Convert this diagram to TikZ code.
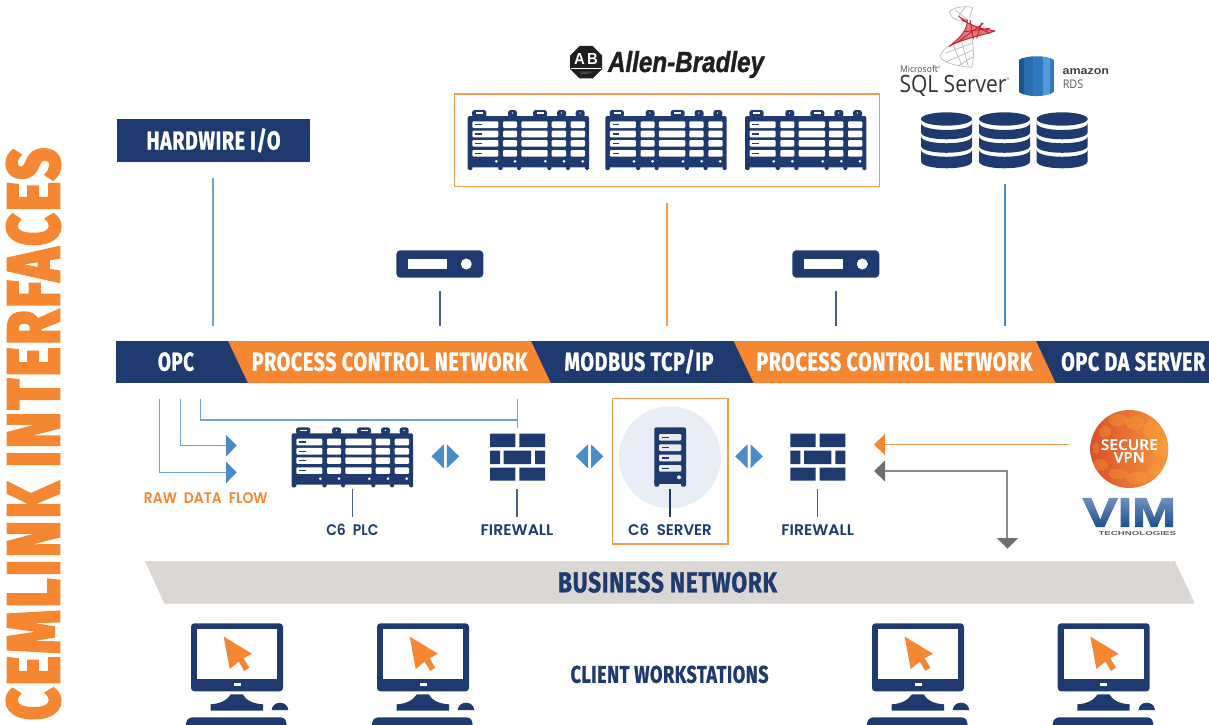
\documentclass[tikz,border=0pt]{standalone}
\usepackage{fontspec}
\usepackage{graphicx}
\usetikzlibrary{fadings}
\setmainfont{Liberation Sans}
\newfontfamily\headfont[FakeBold=1.2,LetterSpace=3]{Fira Sans Bold}
\newfontfamily\titlefont[FakeBold=3.5,LetterSpace=5]{Fira Sans ExtraBold}
\newfontfamily\labfont{Poppins SemiBold}
\newfontfamily\abfont[FakeBold=1.2]{Liberation Sans Bold Italic}
\newfontfamily\sqlfont{Open Sans}
\newfontfamily\vpnfont[FakeBold=0.6]{Open Sans Semibold}
\newfontfamily\vimfont{Liberation Sans Bold}
\newfontfamily\vimbig[FakeBold=2.5]{Liberation Sans Bold}
\newdimen\pxu \pxu=0.75pt
\newlength\capH
\newcommand\fit[3]{\resizebox{#1\pxu}{#2\pxu}{\settoheight\capH{H}\raisebox{0pt}[\capH][0pt]{#3}}}
\definecolor{navy}{HTML}{1F3A6E}
\definecolor{orng}{HTML}{F58733}
\definecolor{arrowblue}{HTML}{4A8BC9}
\definecolor{lineblue}{HTML}{6FA3D8}
\definecolor{slatenavy}{HTML}{47608C}
\definecolor{greyarrow}{HTML}{6D6E71}
\definecolor{bandgrey}{HTML}{DAD7D5}
\definecolor{halo}{HTML}{E8EDF6}
\definecolor{sqlred}{HTML}{C8262C}
\definecolor{sqlgrey}{HTML}{B4BAC2}
\definecolor{vimblue}{HTML}{174C92}
\definecolor{vpndark}{HTML}{D8502A}
\definecolor{vpnlight}{HTML}{F7993D}
\definecolor{rdsa}{HTML}{1A5590}
\definecolor{rdsb}{HTML}{2A6CAD}
\definecolor{rdsc}{HTML}{3079BF}
\definecolor{rdsd}{HTML}{5599D8}
\tikzset{
  x=0.75pt,y=-0.75pt,
  bandtext/.style={font=\headfont\fontsize{18}{18}\selectfont,text=white,inner sep=0pt},
  headtext/.style={font=\headfont\fontsize{18}{18}\selectfont,text=navy,inner sep=0pt},
  lab/.style={font=\labfont\fontsize{11}{11}\selectfont,text=navy,inner sep=0pt},
  wire/.style={draw=lineblue,line width=0.9pt},
  dark/.style={draw=slatenavy,line width=0.9pt},
  boxline/.style={draw=orng!85,line width=0.9pt},
  rack/.pic={
    \begin{scope}[scale=1/3]
      \fill[navy,rounded corners=1.5pt] (0,18) rectangle (364,172);
      \foreach \a/\b in {0/14,92/105,148/160,239/251,295/307,352/364}
        \fill[navy,rounded corners=1pt] (\a,165) rectangle (\b,180);
      \foreach \a/\b in {13/56,121/148,196/238,268/295,324/351}
        \fill[navy,rounded corners=2pt] (\a,0) rectangle (\b,22);
      \foreach \a/\b in {25/46,207/228}
        \fill[white] (\a,7) rectangle (\b,11);
      \foreach \a in {134,281,337}
        \fill[white] (\a,9) circle (2.2);
      \foreach \r in {34,62,90,120}{
        \foreach \a/\b in {14/92,106/148,161/240,252/295,309/352}
          \fill[white,rounded corners=0.8pt] (\a,\r) rectangle (\b,\r+20);
        \fill[navy] (22,\r+8) rectangle (42,\r+12);
      }
      \foreach \a in {86,142,233,289,345}
        \fill[white] (\a,154) circle (4.5);
    \end{scope}
  },
  bricks/.pic={
    \fill[navy]
      (0,0) rectangle (25.3,13.3) (29.3,0) rectangle (55,13.3)
      (0,17) rectangle (10,30.3) (13.7,17) rectangle (41,30.3) (45,17) rectangle (55,30.3)
      (0,34) rectangle (25.3,47) (29.3,34) rectangle (55,47);
  },
  monitor/.pic={
    \fill[navy,rounded corners=2.5pt] (0,0) rectangle (92,68);
    \fill[white] (6,6) rectangle (86,56);
    \fill[white] (42.5,60) rectangle (49.5,63);
    \fill[orng] (32.7,13.3) -- (60.9,30.4) -- (52.6,35) -- (58.3,44.3) -- (53.3,47.7) -- (47.7,38.3) -- (38.7,45.7) -- cycle;
    \fill[navy] (40,71) -- (51.7,71) .. controls (55,77) and (62,80.5) .. (72,81) -- (72,87.3) -- (19.7,87.3) -- (19.7,81) .. controls (29,80.5) and (36,77) .. (40,71) -- cycle;
    \fill[navy] (80.7,86.7) .. controls (81.5,77) and (96.5,77) .. (97.3,86.7) -- cycle;
    \fill[navy,rounded corners=2.5pt] (-5.3,106) -- (-5.3,99) -- (-2,94) -- (93,94) -- (95.7,99) -- (95.7,106) -- cycle;
  },
  dbstack/.pic={
    \fill[navy] (25.5,6.7) ellipse [x radius=25.5,y radius=6.7];
    \foreach \t/\u in {10.7/20,24/33.5,37.5/49}
      \fill[navy] (0,\t) .. controls (0,\t+9.3) and (51,\t+9.3) .. (51,\t) -- (51,\u) .. controls (51,\u+9.3) and (0,\u+9.3) .. (0,\u) -- cycle;
  },
  switchbox/.pic={
    \fill[navy,rounded corners=3pt] (0,0) rectangle (87,27.4);
    \fill[white] (12,9) rectangle (51,18.7);
    \fill[white] (70,13.7) circle (5.5);
  },
  bluepair/.pic={
    \fill[arrowblue] (-1.5,0) -- (-13.8,12) -- (-1.5,24) -- cycle;
    \fill[arrowblue] (1.5,0) -- (13.8,12) -- (1.5,24) -- cycle;
  },
  towerserver/.pic={
    \fill[navy,rounded corners=1.5pt] (0,0) rectangle (31.7,56.5);
    \fill[navy,rounded corners=1pt] (0,52) rectangle (5,59.3) (26.7,52) rectangle (31.7,59.3);
    \foreach \r in {6.7,17,27.3,37.7}{
      \fill[white!90!navy,rounded corners=0.8pt] (4.7,\r) rectangle (27,\r+6.7);
      \fill[navy] (7.5,\r+2.7) rectangle (15,\r+4);
    }
    \fill[white!90!navy] (24.7,50) circle (2);
  }
}
\begin{document}
\begin{tikzpicture}
\useasboundingbox (0,0) rectangle (1209,724);
\fill[white] (0,0) rectangle (1209,724);

% vertical title
\node[rotate=90,inner sep=0pt,text=orng,font=\titlefont\fontsize{50}{50}\selectfont] (title) at (33.5,434) {\fit{572}{51}{CEMLINK INTERFACES}};

% band
\fill[navy] (116,341) rectangle (1209,383);
\fill[orng] (228,341) -- (531,341) -- (550.7,383) -- (248,383) -- cycle;
\fill[orng] (733.6,341) -- (1036,341) -- (1055.5,383) -- (753.6,383) -- cycle;
\node[bandtext] (opc) at (176,361.7) {\fit{36}{18}{OPC}};
\node[bandtext] (pcn1) at (389.6,361.7) {\fit{275.7}{18}{PROCESS CONTROL NETWORK}};
\node[bandtext] (modbus) at (639,361.7) {\fit{149}{18}{MODBUS TCP/IP}};
\node[bandtext] (pcn2) at (894.3,361.7) {\fit{276}{18}{PROCESS CONTROL NETWORK}};
\node[bandtext] (opcda) at (1133.2,361.7) {\fit{144}{18}{OPC DA SERVER}};

% hardwire
\node[fill=navy,minimum width=144.75pt,minimum height=32.25pt,bandtext] (hardwire) at (213.5,140.5) {\fit{134}{18}{HARDWIRE I/O}};

% Allen-Bradley group
\node[boxline,minimum width=318.5pt,minimum height=69.2pt,inner sep=0pt] (abbox) at (667,140.2) {};
\pic at (467.7,110) {rack};
\pic at (605.3,110) {rack};
\pic at (745,110) {rack};
\fill[black!88] (579.5,46) -- (592.5,46) -- (602,55.5) -- (602,69) -- (592.5,78.5) -- (579.5,78.5) -- (570,69) -- (570,55.5) -- cycle;
\node[inner sep=0pt,text=white,font=\vimfont\fontsize{12}{12}\selectfont] (abmark) at (586,59.5) {\fit{24}{11}{A{\,}B}};
\draw[white,line width=0.5pt] (571,68) -- (601,68);
\node[inner sep=0pt,text=white!70!black,font=\sffamily] (abq) at (586,73.5) {\fit{11}{2.5}{QUALITY}};
\node[inner sep=0pt,text=black!88,font=\abfont\fontsize{22}{22}\selectfont] (ablogo) at (686,62) {\fit{156}{20}{Allen-Bradley}};

% database stacks
\pic at (921,112.3) {dbstack};
\pic at (979,112.3) {dbstack};
\pic at (1036.7,112.3) {dbstack};

% SQL Server mark
\begin{scope}[shift={(890,0)},scale=1/3]
  \fill[sqlred!60] (205,48) .. controls (240,80) and (280,88) .. (315,93) .. controls (270,108) and (220,115) .. (176,140) .. controls (205,118) and (232,95) .. (232,60) -- cycle;
  \draw[sqlred,line width=0.75pt]
    (205,48) .. controls (240,80) and (280,88) .. (315,93)
    (315,93) .. controls (270,108) and (220,115) .. (176,140)
    (176,140) .. controls (205,118) and (232,95) .. (232,60)
    (240,60) -- (250,118)
    (275,68) -- (260,115)
    (215,60) -- (300,100)
    (225,95) -- (300,85)
    (205,125) -- (280,70);
  \draw[sqlgrey,line width=0.5pt]
    (178,35) .. controls (195,20) and (225,18) .. (248,22)
    (178,35) .. controls (182,52) and (195,60) .. (212,62)
    (195,30) -- (235,60)
    (225,22) -- (205,50)
    (248,22) -- (238,55)
    (175,138) .. controls (158,150) and (148,165) .. (153,175) .. controls (170,192) and (210,200) .. (245,202)
    (245,202) .. controls (252,175) and (252,150) .. (246,118)
    (165,160) -- (245,130)
    (170,185) -- (250,150)
    (205,197) -- (250,170)
    (190,135) -- (215,195)
    (215,125) -- (235,200);
\end{scope}
\node[inner sep=0pt,text=black!70,font=\sqlfont\fontsize{9}{9}\selectfont] (msft) at (919,69.5) {\fit{38}{6.5}{Microsoft}};
\node[inner sep=0pt,text=black!80,font=\sqlfont\fontsize{20}{20}\selectfont] (sql) at (953,84) {\fit{107}{17}{SQL Server}};
\node[inner sep=0pt,text=black!70,font=\fontsize{3}{3}\selectfont] (sqlr) at (1008,79) {®};
\node[inner sep=0pt,text=black!70,font=\fontsize{2.5}{3}\selectfont] (msr) at (939,67) {®};

% Amazon RDS mark
\begin{scope}
  \clip (1019,60) .. controls (1026,55) and (1047,55) .. (1054,60) -- (1054,92) .. controls (1047,97.5) and (1026,97.5) .. (1019,92) -- cycle;
  \fill[rdsb] (1019,50) rectangle (1033,100);
  \fill[rdsa] (1019,50) rectangle (1023.5,100);
  \fill[rdsc] (1033,50) rectangle (1043,100);
  \fill[rdsd] (1043,50) rectangle (1050,100);
  \fill[rdsc] (1050,50) rectangle (1054,100);
\end{scope}
\node[inner sep=0pt,text=black!75,font=\vimfont\fontsize{9}{9}\selectfont] (amazon) at (1085.8,70.5) {\fit{46.5}{7.5}{amazon}};
\node[inner sep=0pt,text=black!65,font=\sqlfont\fontsize{9}{9}\selectfont] (rds) at (1073,84.5) {\fit{20.5}{8.5}{RDS}};

% switches
\pic at (396.3,250.3) {switchbox};
\pic at (792.3,250.3) {switchbox};

% upper connectors
\coordinate (hwA) at (213,178);   \coordinate (hwB) at (213,326);
\coordinate (sw1A) at (440,291);  \coordinate (sw1B) at (440,326);
\coordinate (abA) at (667,203);   \coordinate (abB) at (667,326);
\coordinate (sw2A) at (836,291);  \coordinate (sw2B) at (836,326);
\coordinate (dbA) at (1005,184);  \coordinate (dbB) at (1005,326);
\draw[wire] (hwA) -- (hwB);
\draw[dark] (sw1A) -- (sw1B);
\draw[draw=orng!85,line width=0.9pt] (abA) -- (abB);
\draw[dark] (sw2A) -- (sw2B);
\draw[wire,draw=arrowblue] (dbA) -- (dbB);

% raw data flow
\coordinate (r1A) at (159.3,399);  \coordinate (r1B) at (159.3,472.4); \coordinate (r1C) at (227,472.4);
\coordinate (r2A) at (180.7,399);  \coordinate (r2B) at (180.7,445.7); \coordinate (r2C) at (227,445.7);
\coordinate (r3A) at (200.7,399);  \coordinate (r3B) at (200.7,420);   \coordinate (r3C) at (517.5,420);
\coordinate (r4A) at (517.5,399);  \coordinate (r4B) at (517.5,428);
\draw[wire] (r1A) -- (r1B) -- (r1C);
\draw[wire] (r2A) -- (r2B) -- (r2C);
\draw[wire] (r3A) -- (r3B) -- (r3C);
\draw[wire] (r4A) -- (r4B);
\fill[arrowblue] (226,461.5) -- (236.7,472.4) -- (226,483.3) -- cycle;
\fill[arrowblue] (226,434.8) -- (236.7,445.7) -- (226,456.6) -- cycle;
\node[lab,text=orng] (raw) at (205.8,497.7) {\fit{123.7}{10.7}{RAW\hspace{0.5em}DATA\hspace{0.5em}FLOW}};

% equipment row
\pic at (291.7,427.3) {rack};
\pic at (490,433.7) {bricks};
\pic at (790.3,433.7) {bricks};
\pic at (445.3,444.3) {bluepair};
\pic at (589.5,444.3) {bluepair};
\pic at (749,444.3) {bluepair};
\node[boxline,minimum width=86.5pt,minimum height=109pt,inner sep=0pt] (serverbox) at (670.3,471.3) {};
\fill[halo] (670,457.3) circle (51);
\pic at (654.3,427.3) {towerserver};
\coordinate (plcA) at (352.7,489);  \coordinate (plcB) at (352.7,517);
\coordinate (fw1A) at (517,489);    \coordinate (fw1B) at (517,517);
\coordinate (srvA) at (670,489);    \coordinate (srvB) at (670,517);
\coordinate (fw2A) at (817.7,489);  \coordinate (fw2B) at (817.7,517);
\draw[dark] (plcA) -- (plcB);
\draw[dark] (fw1A) -- (fw1B);
\draw[navy,line width=0.9pt] (srvA) -- (srvB);
\draw[dark] (fw2A) -- (fw2B);
\node[lab] (plclab) at (352.4,530.3) {\fit{52.3}{10.7}{C6\hspace{0.5em}PLC}};
\node[lab] (fw1lab) at (517,530.3) {\fit{72.7}{10.7}{FIREWALL}};
\node[lab] (srvlab) at (670,530.3) {\fit{83.7}{10.7}{C6\hspace{0.5em}SERVER}};
\node[lab] (fw2lab) at (817.7,530.3) {\fit{72.7}{10.7}{FIREWALL}};

% secure VPN
\shade[left color=vpndark,right color=vpnlight] (1129.3,449) circle (39);
\begin{scope}
  \clip (1129.3,449) circle (39);
  \foreach \a/\b/\c/\d in {1118/420/10/6,1135/423/9/7,1152/430/9/9,1105/432/6/6,1160/447/8/10,1100/465/8/6,1118/474/10/5,1137/478/11/6,1155/470/7/6,1096/448/3/6}
    \fill[vpnlight!80!yellow,opacity=0.3] (\a,\b) ellipse [x radius=\c,y radius=\d];
\end{scope}
\node[inner sep=0pt,text=white,font=\vpnfont\fontsize{11}{11}\selectfont] (secure) at (1129.3,444.7) {\fit{57}{10.5}{SECURE}};
\node[inner sep=0pt,text=white,font=\vpnfont\fontsize{11}{11}\selectfont] (vpn) at (1129.3,457.3) {\fit{31}{10.5}{VPN}};

% VIM logo
\node[inner sep=0pt,text=vimblue,font=\vimbig\fontsize{30}{30}\selectfont] (vim) at (1129.3,512.5) {\fit{93.3}{28}{VIM}};
\fill[white,path fading=south,fill opacity=0.4] (1080,497) rectangle (1178,529);
\node[inner sep=0pt,text=greyarrow!85!black,font=\vimfont\fontsize{6}{6}\selectfont] (tech) at (1137.3,533.2) {\fit{77.5}{4}{TECHNOLOGIES}};

% VPN and business arrows
\coordinate (vpnA) at (1069,444.5); \coordinate (vpnB) at (884,444.5);
\coordinate (bizA) at (884,471);    \coordinate (bizB) at (1007,471); \coordinate (bizC) at (1007,539);
\draw[draw=orng!80,line width=1pt] (vpnA) -- (vpnB);
\draw[draw=greyarrow!80,line width=1pt] (bizA) -- (bizB) -- (bizC);
\fill[orng] (885,434) -- (874,444.5) -- (885,455) -- cycle;
\fill[greyarrow] (885,460.5) -- (874,471) -- (885,481.5) -- cycle;
\fill[greyarrow] (997,538) -- (1018,538) -- (1007.5,548.7) -- cycle;

% business network
\fill[bandgrey] (145,561) -- (1174.7,561) -- (1195,603.7) -- (164.4,603.7) -- cycle;
\node[headtext] (biz) at (667.5,582.3) {\fit{219}{20}{BUSINESS NETWORK}};

% workstations
\pic at (191,623.3) {monitor};
\pic at (377,623.3) {monitor};
\pic at (872,623.3) {monitor};
\pic at (1057.7,623.3) {monitor};
\node[headtext] (clients) at (669.6,674.4) {\fit{198}{16.7}{CLIENT WORKSTATIONS}};
\end{tikzpicture}
\end{document}
